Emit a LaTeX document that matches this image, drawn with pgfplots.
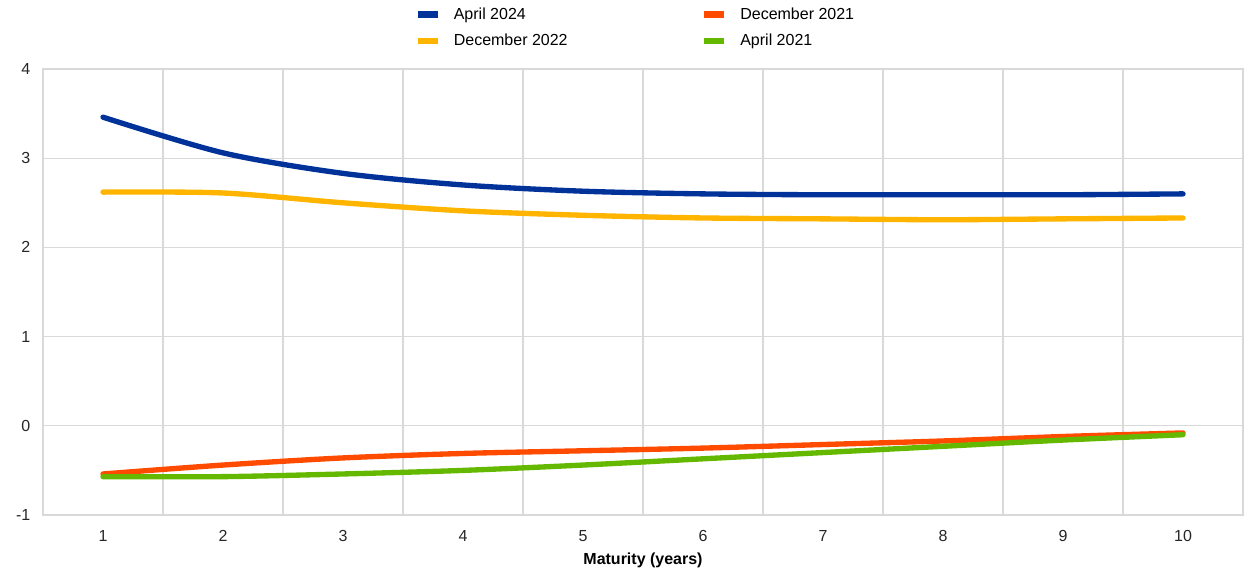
\documentclass[border=0pt]{standalone}
\usepackage{fontspec}
\setmainfont{Liberation Sans}
\usepackage{pgfplots}
\pgfplotsset{compat=1.18}
\definecolor{ecbblue}{HTML}{003299}
\definecolor{ecbyellow}{HTML}{FFB400}
\definecolor{ecborange}{HTML}{FF4B00}
\definecolor{ecbgreen}{HTML}{65B800}
\definecolor{gridgray}{HTML}{D9D9D9}
\begin{document}
\begin{tikzpicture}
\begin{axis}[
  at={(0,0)}, anchor=south west,
  scale only axis, width=900pt, height=334.5pt,
  xmin=0.5, xmax=10.5, ymin=-1, ymax=4,
  xtick={1,...,10}, ytick={-1,0,...,4},
  minor xtick={0.5,1.5,...,10.5},
  xmajorgrids=false, xminorgrids=true, ymajorgrids=true,
  major tick length=0pt, minor tick length=0pt,
  grid style={draw=gridgray, line width=0.9pt},
  minor grid style={draw=gridgray, line width=0.9pt},
  axis line style={draw=gridgray, line width=0.9pt},
  tick label style={font=\fontsize{12}{14}\selectfont, text=black!85},
  /pgf/number format/assume math mode=true,
  xticklabel style={yshift=-8pt},
  yticklabel style={xshift=-6pt},
  xlabel={\textbf{Maturity (years)}},
  xlabel style={font=\fontsize{12}{14}\selectfont, at={(axis description cs:0.5,0)}, anchor=center, yshift=-34pt},
  legend columns=2,
  legend style={at={(0.306,1.035)}, anchor=south west, draw=none, fill=none,
    font=\fontsize{12}{14}\selectfont, row sep=5.5pt,
    /tikz/every odd column/.append style={column sep=7.5pt},
    /tikz/every even column/.append style={column sep=98pt}},
  legend cell align=left,
  legend image code/.code={\draw[line width=5pt,line cap=butt] (0pt,0pt) -- (15pt,0pt);},
  every axis plot/.append style={line width=4pt, line cap=round, smooth},
]
\addplot[color=ecbblue] coordinates {(1,3.46) (2,3.06) (3,2.83) (4,2.70) (5,2.63) (6,2.60) (7,2.59) (8,2.59) (9,2.59) (10,2.60)};
\addlegendentry{April 2024}
\addplot[color=ecborange] coordinates {(1,-0.54) (2,-0.44) (3,-0.36) (4,-0.31) (5,-0.28) (6,-0.25) (7,-0.21) (8,-0.17) (9,-0.12) (10,-0.08)};
\addlegendentry{December 2021}
\addplot[color=ecbyellow] coordinates {(1,2.62) (2,2.61) (3,2.50) (4,2.41) (5,2.36) (6,2.33) (7,2.32) (8,2.31) (9,2.32) (10,2.33)};
\addlegendentry{December 2022}
\addplot[color=ecbgreen] coordinates {(1,-0.57) (2,-0.57) (3,-0.54) (4,-0.50) (5,-0.44) (6,-0.37) (7,-0.30) (8,-0.23) (9,-0.16) (10,-0.10)};
\addlegendentry{April 2021}
\end{axis}
\pgfresetboundingbox
\path (-32.25pt,-42pt) rectangle (901.5pt,386.25pt);
\end{tikzpicture}
\end{document}
